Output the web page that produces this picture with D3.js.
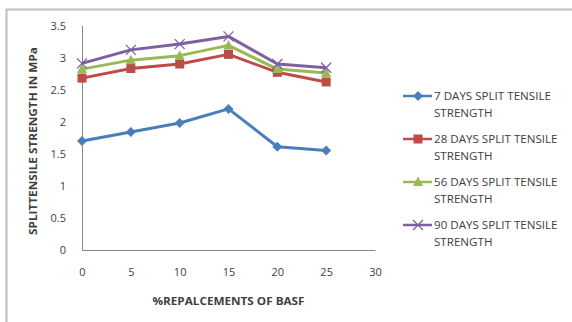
<!DOCTYPE html>
<html>
<head>
<meta charset="utf-8">
<script src="https://cdn.jsdelivr.net/npm/d3@7/dist/d3.min.js"></script>
<style>
  html, body { margin: 0; padding: 0; background: #fff; }
  svg { display: block; }
  text { font-family: "Open Sans", "Liberation Sans", sans-serif; fill: #404040; }
</style>
</head>
<body>
<svg id="chart" width="572" height="322"></svg>
<script>
// Split tensile strength (MPa) versus % replacement of BASF
const replacement = [0, 5, 10, 15, 20, 25];
const days7  = [1.70, 1.84, 1.98, 2.20, 1.61, 1.55];
const days28 = [2.68, 2.83, 2.90, 3.05, 2.77, 2.62];
const days56 = [2.82, 2.96, 3.03, 3.19, 2.82, 2.76];
const days90 = [2.91, 3.12, 3.21, 3.33, 2.90, 2.84];
const seriesNames = [
  ["7 DAYS SPLIT TENSILE", "STRENGTH"],
  ["28 DAYS SPLIT TENSILE", "STRENGTH"],
  ["56 DAYS SPLIT TENSILE", "STRENGTH"],
  ["90 DAYS SPLIT TENSILE", "STRENGTH"]
];
const xTicks = [0, 5, 10, 15, 20, 25, 30];
const yTicks = [0, 0.5, 1, 1.5, 2, 2.5, 3, 3.5];

const series = [
  { values: days7,  color: "#4a7ebb", marker: "diamond" },
  { values: days28, color: "#be4b48", marker: "square" },
  { values: days56, color: "#98b954", marker: "triangle" },
  { values: days90, color: "#7d60a0", marker: "cross" }
];

const svg = d3.select("#chart");

// outer chart frame (top and left edges)
svg.append("path")
  .attr("d", "M6.5,322 V9.5 H572")
  .attr("fill", "none").attr("stroke", "#bdbdbd").attr("stroke-width", 2);

const x = d3.scaleLinear().domain([0, 30]).range([82, 375]);
const y = d3.scaleLinear().domain([0, 3.5]).range([250, 25.5]);

// axes without tick marks
const xAxis = svg.append("g").attr("transform", `translate(0,${y(0)})`)
  .call(d3.axisBottom(x).tickValues(xTicks).tickSize(0).tickPadding(18).tickFormat(d3.format("d")));
const yAxis = svg.append("g").attr("transform", `translate(${x(0)},0)`)
  .call(d3.axisLeft(y).tickValues(yTicks).tickSize(0).tickPadding(16).tickFormat(d => String(d)));
[xAxis, yAxis].forEach(g => {
  g.select(".domain").attr("stroke", "#868686").attr("stroke-width", 1);
  g.selectAll("text").attr("font-size", 11).attr("fill", "#404040")
    .style("font-family", '"Open Sans", "Liberation Sans", sans-serif');
});

// axis titles
svg.append("text")
  .attr("x", (x(0) + x(30)) / 2).attr("y", 305)
  .attr("text-anchor", "middle").attr("font-size", 10).attr("font-weight", "bold")
  .attr("textLength", 152).attr("lengthAdjust", "spacingAndGlyphs")
  .text("%REPALCEMENTS  OF BASF");
svg.append("text")
  .attr("transform", "translate(37,141) rotate(-90)")
  .attr("text-anchor", "middle").attr("font-size", 10).attr("font-weight", "bold")
  .attr("textLength", 188).attr("lengthAdjust", "spacingAndGlyphs")
  .text("SPLITTENSILE STRENGTH  IN MPa");

function drawMarker(g, type, color) {
  if (type === "diamond") {
    g.append("path").attr("d", "M0,-5 L5,0 L0,5 L-5,0 Z").attr("fill", color);
  } else if (type === "square") {
    g.append("rect").attr("x", -4.5).attr("y", -4.5).attr("width", 9).attr("height", 9).attr("fill", color);
  } else if (type === "triangle") {
    g.append("path").attr("d", "M0,-5.5 L5,4 L-5,4 Z").attr("fill", color);
  } else {
    g.append("path").attr("d", "M-5,-5 L5,5 M-5,5 L5,-5")
      .attr("stroke", color).attr("stroke-width", 1.3).attr("fill", "none");
  }
}

const line = d3.line().x((d, i) => x(replacement[i])).y(d => y(d));

series.forEach(s => {
  svg.append("path").datum(s.values)
    .attr("d", line).attr("fill", "none")
    .attr("stroke", s.color).attr("stroke-width", 3).attr("stroke-linejoin", "round");
  s.values.forEach((v, i) => {
    const g = svg.append("g").attr("transform", `translate(${x(replacement[i])},${y(v)})`);
    drawMarker(g, s.marker, s.color);
  });
});

// legend
const legend = svg.append("g");
series.forEach((s, i) => {
  const cy = 96 + i * 43;
  legend.append("line").attr("x1", 403).attr("x2", 432).attr("y1", cy).attr("y2", cy)
    .attr("stroke", s.color).attr("stroke-width", 2.5);
  const mg = legend.append("g").attr("transform", `translate(418,${cy})`);
  drawMarker(mg, s.marker, s.color);
  seriesNames[i].forEach((t, j) => {
    legend.append("text").attr("x", 434).attr("y", cy + 4 + j * 16.5)
      .attr("font-size", 11.6).attr("font-weight", 500).text(t);
  });
});
</script>
</body>
</html>
